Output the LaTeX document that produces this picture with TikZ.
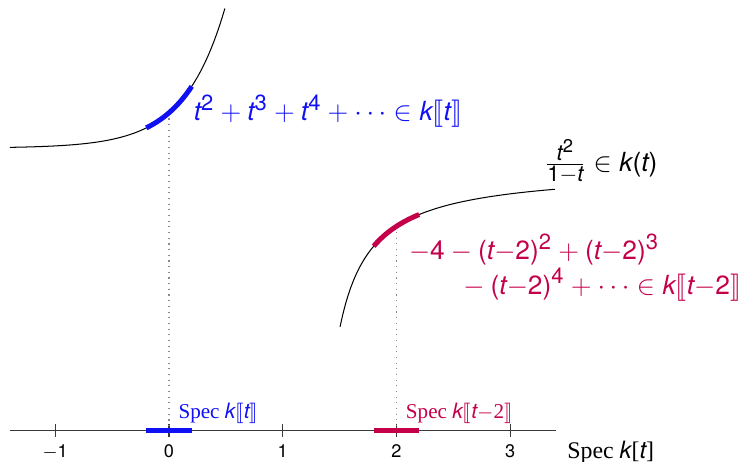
\documentclass[tikz,border=0pt,12pt]{standalone}
\usepackage{amsmath}
\usepackage{fontspec}
\setmainfont{TeX Gyre Heros}
\usepackage{stmaryrd}
\usepackage[italic]{mathastext}
\newfontfamily\specfont{Liberation Serif}
\newcommand\z[1]{\text{#1}}
\newcommand\mi{\mathchar"2200}
\newcommand\mo{\mathchar"0200}
\usepackage{tikz}
\definecolor{blau}{HTML}{1010F5}
\definecolor{rotm}{HTML}{C4004A}
\definecolor{grau}{HTML}{3A3A3A}
\definecolor{hgrau}{HTML}{8A8A8A}
\tikzset{
  achse/.style={grau,line width=0.5pt},
  kurve/.style={black,line width=0.45pt},
  hlb/.style={blau,line width=2.2pt},
  hlr/.style={rotm,line width=2.2pt},
  hilf/.style={hgrau,dotted,line width=0.5pt},
  speclab/.style={anchor=base west,font=\fontsize{9.3}{11}\selectfont},
  formel/.style={font=\fontsize{11.6}{14}\selectfont},
}

\begin{document}
\begin{tikzpicture}[x=1.76cm,y=1.76cm,
  declare function={fa(\x)=2.48+0.31*exp(2.8*\x); fb(\x)=2.3-0.397/(\x-1.219);}]
  \useasboundingbox (-1.486,-0.273) rectangle (5.083,3.782);
  \draw[achse] (-1.4,0) coordinate (l) -- (3.4,0) coordinate (r);
  \foreach \i/\s in {-1/{$\mo$1},0/0,1/1,2/2,3/3}{
    \draw[achse] (\i,0.057)--(\i,-0.057);
    \node[anchor=base,font=\scriptsize,black] (lab\i) at (\i,-0.245) {\s};}
  \node[anchor=base west,font=\fontsize{10.5}{12}\selectfont] (spec) at (3.42,-0.25) {\specfont Spec $k\z[t\z]$};
  % Kurven
  \draw[kurve] plot[domain=-1.4:0.4925,samples=80] (\x,{fa(\x)});
  \draw[kurve] plot[domain=1.504:3.395,samples=80] (\x,{fb(\x)});
  \coordinate (p0) at (0,{fa(0)}); \coordinate (q0) at (0,0);
  \coordinate (p2) at (2,{fb(2)}); \coordinate (q2) at (2,0);
  \draw[hilf] (p0)--(q0);
  \draw[hilf] (p2)--(q2);
  \draw[hlb,line cap=butt] plot[domain=-0.2:0.2,samples=20] (\x,{fa(\x)});
  \draw[hlr,line cap=butt] plot[domain=1.8:2.2,samples=20] (\x,{fb(\x)});
  \draw[hlb] (-0.2,0)--(0.2,0);
  \draw[hlr] (1.8,0)--(2.2,0);
  % Beschriftung
  \node[blau,speclab] (spec0) at (0,0.106) {\specfont Spec $k\llbracket t\rrbracket$};
  \node[rotm,speclab] (spec2) at (2,0.106) {\specfont Spec $k\llbracket t\mo\z2\rrbracket$};
  \node[blau,formel,anchor=base west] (reihe0) at (0.135,2.726) {$t^{\z2}+t^{\z3}+t^{\z4}+\cdots\in k\llbracket t\rrbracket$};
  \node[formel] (quot) at (3.80,2.36) {$\frac{t^{\z2}}{\z1\mo t}\in k\z(t\z)$};
  \node[rotm,formel,anchor=base west] (reihe2a) at (2.027,1.50) {$\mo\z4\mi\z(t\mo\z{2)}^{\z2}+\z(t\mo\z{2)}^{\z3}$};
  \node[rotm,formel,anchor=base east] (reihe2b) at (5.114,1.195) {${}\mi\z(t\mo\z{2)}^{\z4}+\cdots\in k\llbracket t\mo\z2\rrbracket$};
\end{tikzpicture}
\end{document}
